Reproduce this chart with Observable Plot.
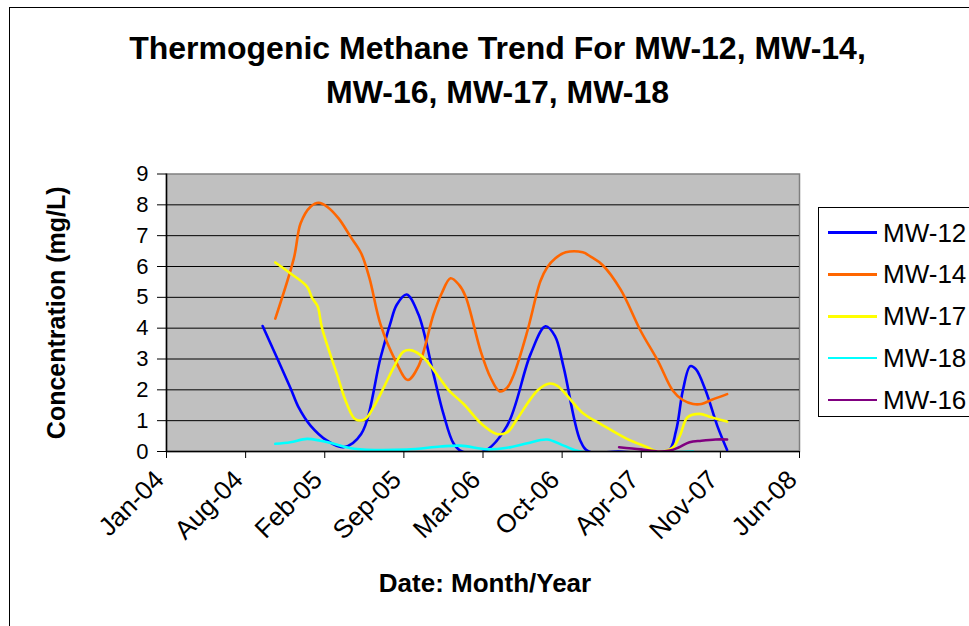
<!DOCTYPE html>
<html><head><meta charset="utf-8">
<script src="https://cdn.jsdelivr.net/npm/d3@7"></script>
<script src="https://cdn.jsdelivr.net/npm/@observablehq/plot@0.6"></script>
<style>
body{margin:0;background:#fff;font-family:"Liberation Sans",Arial,sans-serif;color:#000;}
#page{position:relative;width:969px;height:626px;overflow:hidden;background:#fff;}
#border{position:absolute;left:9px;top:7px;width:1100px;height:800px;border-left:1.5px solid #000;border-top:1.5px solid #000;box-sizing:border-box;}
#title{position:relative;height:130px;box-sizing:border-box;padding-top:26px;padding-left:26px;font-size:32px;font-weight:bold;line-height:44px;text-align:center;white-space:nowrap;}
#chart{position:relative;height:496px;}
#legend{position:absolute;left:818px;top:207px;width:200px;height:210px;border:1.5px solid #000;box-sizing:border-box;background:#fff;}
.item{position:absolute;left:9px;height:30px;display:flex;align-items:center;font-size:26px;line-height:30px;white-space:nowrap;}
.item span.sw{display:inline-block;width:49px;height:2.5px;margin-right:6px;}
</style></head>
<body>
<div id="page">
  <div id="border"></div>
  <div id="title">Thermogenic Methane Trend For MW-12, MW-14,<br>MW-16, MW-17, MW-18</div>
  <div id="chart"></div>
  <div id="legend"></div>
</div>
<script>
// Series names and colours (legend order)
const seriesNames = ["MW-12", "MW-14", "MW-17", "MW-18", "MW-16"];
const seriesColors = ["#0000ff", "#ff6600", "#ffff00", "#00ffff", "#800080"];

// X-axis tick dates (Excel serials 38000 + 200k) and labels
const tickDates = ["2004-01-14","2004-08-01","2005-02-17","2005-09-05","2006-03-24","2006-10-10","2007-04-28","2007-11-14","2008-06-01"];
const xDomain = ["2004-01-14", "2008-06-01"];
const yTicks = [0,1,2,3,4,5,6,7,8,9];

// MW-12
const mw12Dates = ["2004-09-13","2004-11-22","2004-12-13","2005-01-12","2005-02-23","2005-04-05","2005-05-20","2005-07-08","2005-08-01","2005-08-18","2005-09-12","2005-10-12","2005-11-19","2005-12-14","2006-01-09","2006-01-30","2006-03-26","2006-05-24","2006-07-22","2006-08-29","2006-09-22","2006-10-14","2006-11-25","2006-12-16","2007-03-01","2007-07-04","2007-07-25","2007-08-11","2007-08-30","2007-09-13","2007-10-08","2007-11-06","2007-12-01"];
const mw12Values = [4.07,2.07,1.43,0.84,0.35,0.14,0.57,3.04,4.12,4.76,5.09,4.44,2.5,1.22,0.25,0.0,0.0,0.84,3.15,4.06,3.74,2.72,0.35,0.0,0.0,0.0,0.68,1.97,2.77,2.67,1.97,0.84,0.05];

// MW-14
const mw14Dates = ["2004-10-15","2004-12-01","2004-12-18","2005-01-12","2005-02-02","2005-02-23","2005-03-24","2005-04-23","2005-05-20","2005-06-10","2005-07-08","2005-08-15","2005-09-15","2005-10-12","2005-11-19","2005-12-10","2006-01-01","2006-01-22","2006-02-08","2006-03-18","2006-04-12","2006-05-05","2006-05-24","2006-06-10","2006-07-14","2006-08-16","2006-09-02","2006-09-23","2006-10-19","2006-12-01","2006-12-21","2007-01-20","2007-03-07","2007-04-27","2007-06-09","2007-07-17","2007-08-11","2007-09-06","2007-09-27","2007-10-22","2007-12-01"];
const mw14Values = [4.31,6.27,7.4,7.94,8.07,7.94,7.56,6.97,6.43,5.62,4.12,2.94,2.32,2.77,4.45,5.14,5.62,5.41,5.03,3.26,2.4,1.95,2.07,2.5,3.9,5.52,5.97,6.27,6.46,6.46,6.32,6.05,5.25,3.9,2.94,1.97,1.67,1.54,1.54,1.67,1.86];

// MW-17
const mw17Dates = ["2004-10-15","2004-11-22","2005-01-03","2005-01-16","2005-01-30","2005-02-10","2005-03-20","2005-04-14","2005-05-05","2005-05-30","2005-06-20","2005-07-16","2005-08-10","2005-09-04","2005-09-25","2005-10-25","2005-12-06","2005-12-27","2006-02-03","2006-03-21","2006-04-28","2006-05-24","2006-06-18","2006-08-08","2006-09-06","2006-09-28","2006-12-01","2007-01-16","2007-03-23","2007-05-13","2007-06-08","2007-07-16","2007-08-04","2007-08-23","2007-09-22","2007-10-22","2007-12-01"];
const mw17Values = [6.13,5.78,5.35,4.98,4.71,4.01,2.5,1.54,1.05,1.05,1.43,2.07,2.72,3.24,3.28,3.04,2.35,1.99,1.54,0.89,0.57,0.62,1.05,1.97,2.2,2.13,1.25,0.89,0.41,0.14,0.0,0.12,0.52,1.11,1.22,1.11,0.97];

// MW-18
const mw18Dates = ["2004-10-15","2004-11-22","2005-01-03","2005-02-06","2005-03-12","2005-05-02","2005-09-12","2005-12-06","2006-01-26","2006-04-04","2006-05-24","2006-07-14","2006-09-02","2006-10-14","2006-11-25","2007-09-06"];
const mw18Values = [0.25,0.3,0.41,0.35,0.25,0.09,0.06,0.16,0.19,0.07,0.12,0.27,0.39,0.19,0.0,0.0];

// MW-16
const mw16Dates = ["2007-03-03","2007-04-27","2007-06-09","2007-07-09","2007-07-30","2007-08-28","2007-09-27","2007-11-02","2007-12-01"];
const mw16Values = [0.14,0.07,0.0,0.03,0.12,0.3,0.35,0.39,0.39];

const seriesDates = [mw12Dates, mw14Dates, mw17Dates, mw18Dates, mw16Dates];
const seriesValues = [mw12Values, mw14Values, mw17Values, mw18Values, mw16Values];

const rows = [];
seriesNames.forEach((name, i) => {
  seriesDates[i].forEach((d, j) => rows.push({series: name, date: new Date(d), value: seriesValues[i][j]}));
});

const fmt = d3.utcFormat("%b-%y");
const font = "'Liberation Sans', Arial, sans-serif";
const xTicks = tickDates.map(d => new Date(d));

const chart = Plot.plot({
  width: 969,
  height: 496,
  marginLeft: 166,
  marginRight: 170,
  marginTop: 43.5,
  marginBottom: 175,
  style: {fontFamily: font, background: "transparent", color: "#000", overflow: "visible"},
  x: {type: "utc", domain: xDomain.map(d => new Date(d))},
  y: {domain: [0, 9]},
  color: {domain: seriesNames, range: seriesColors},
  marks: [
    Plot.frame({fill: "#c0c0c0", stroke: "#808080", strokeWidth: 1.5}),
    Plot.ruleY(yTicks.slice(1, -1), {stroke: "#000", strokeWidth: 1}),
    Plot.line(rows, {x: "date", y: "value", z: "series", stroke: "series", strokeWidth: 2.6, curve: "catmull-rom", clip: true}),
    Plot.ruleY([0], {stroke: "#000", strokeWidth: 1.5}),
    Plot.ruleX([new Date(xDomain[0])], {stroke: "#000", strokeWidth: 1.5}),
    Plot.axisY({ticks: yTicks, tickSize: 9, tickPadding: 9, fontSize: 22, tickFormat: d => String(d), label: null}),
    Plot.axisX({ticks: xTicks, tickSize: 7, text: null, label: null}),
    Plot.axisX({ticks: xTicks, tickFormat: fmt, tickRotate: -45, tickSize: 0, tickPadding: 24, dx: -7, fontSize: 26, label: null}),
    Plot.text(["Concentration (mg/L)"], {frameAnchor: "left", dx: -110, rotate: -90, fontSize: 25, fontWeight: "bold", textAnchor: "middle", lineAnchor: "middle"}),
    Plot.text(["Date: Month/Year"], {frameAnchor: "bottom", dy: 140, dx: 2, fontSize: 26, fontWeight: "bold", textAnchor: "middle", lineAnchor: "bottom"})
  ]
});
document.getElementById("chart").appendChild(chart);

// Legend
const legend = document.getElementById("legend");
const legendSlots = [0, 1, 2, 3, 4];
seriesNames.forEach((name, i) => {
  const item = document.createElement("div");
  item.className = "item";
  item.style.top = (9.5 + legendSlots[i] * 41.9) + "px";
  const sw = document.createElement("span");
  sw.className = "sw";
  sw.style.background = seriesColors[i];
  item.appendChild(sw);
  item.appendChild(document.createTextNode(name));
  legend.appendChild(item);
});
</script>
</body></html>
